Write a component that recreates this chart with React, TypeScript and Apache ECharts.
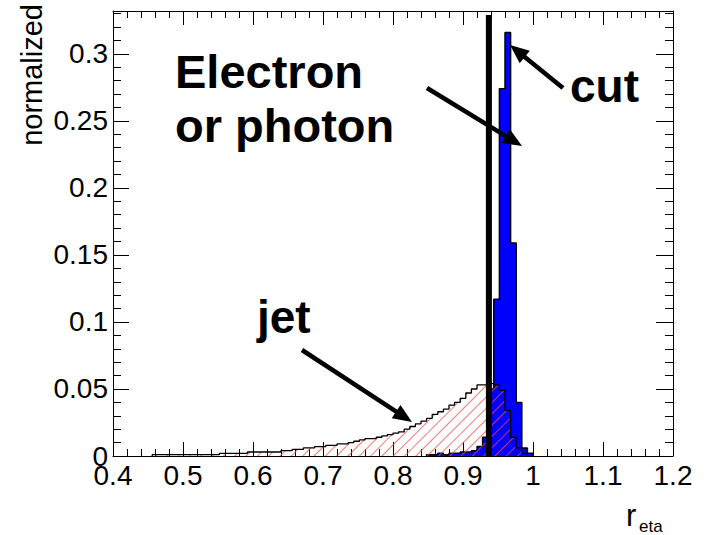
import React, { useEffect, useRef } from "react";
import * as echarts from "echarts";

// ---- data ----
const BIN_WIDTH = 0.008;
const X_MIN = 0.4;
const X_MAX = 1.2;
const X_INTERVAL = 0.1;
const Y_MAX = 0.332;
const Y_INTERVAL = 0.05;

// jet histogram (first bin lower edge = jetStart)
const jetStart = 0.456;
const jetValues = [
  0.001, 0.001, 0.001, 0.001, 0.001, 0.001, 0.001, 0.001, 0.001, 0.001, 0.001, 0.001,
  0.002, 0.002, 0.002, 0.002, 0.002,
  0.003, 0.003, 0.003, 0.003, 0.003, 0.003,
  0.004, 0.004, 0.005, 0.005, 0.006, 0.006, 0.007, 0.007,
  0.008, 0.008, 0.009, 0.009, 0.010, 0.011, 0.012, 0.013, 0.013, 0.014,
  0.015, 0.016, 0.017, 0.018, 0.020, 0.022, 0.024, 0.026, 0.028, 0.031,
  0.033, 0.035, 0.038, 0.040, 0.043, 0.047, 0.050, 0.053, 0.053, 0.054,
  0.053, 0.049, 0.034, 0.014, 0.006, 0.002,
];

// electron / photon histogram (first bin lower edge = egStart)
const egStart = 0.848;
const egValues = [
  0.001, 0.001, 0.002, 0.001, 0.002, 0.002, 0.003, 0.003, 0.004, 0.007,
  0.014, 0.050, 0.117, 0.274, 0.316, 0.159, 0.040, 0.006, 0.002,
];

// cut line
const cutX = 0.937;
const cutTop = 0.329;

const FONT = "'Liberation Sans', Arial, Helvetica, sans-serif";

function stepData(start: number, values: number[]) {
  const pts: number[][] = [[start, 0]];
  values.forEach((v, i) => {
    pts.push([+(start + i * BIN_WIDTH).toFixed(6), v]);
  });
  pts.push([+(start + values.length * BIN_WIDTH).toFixed(6), 0]);
  return pts;
}

function arrow(x1: number, y1: number, x2: number, y2: number) {
  const len = Math.hypot(x2 - x1, y2 - y1);
  const ux = (x2 - x1) / len;
  const uy = (y2 - y1) / len;
  const hl = 19;
  const hw = 8;
  const bx = x2 - ux * hl;
  const by = y2 - uy * hl;
  const px = -uy;
  const py = ux;
  return [
    {
      type: "line",
      shape: { x1, y1, x2: bx + ux * 2, y2: by + uy * 2 },
      style: { stroke: "#000", lineWidth: 4.5 },
      z: 100,
    },
    {
      type: "polygon",
      shape: {
        points: [
          [x2, y2],
          [bx + px * hw, by + py * hw],
          [bx - px * hw, by - py * hw],
        ],
      },
      style: { fill: "#000" },
      z: 100,
    },
  ];
}

export default function App() {
  const ref = useRef<HTMLDivElement>(null);

  useEffect(() => {
    document.body.style.margin = "0";
    const chart = echarts.init(ref.current!, null, { renderer: "svg" });

    const axisLineStyle = { color: "#000", width: 1 };
    const xCommon = {
      type: "value",
      min: X_MIN,
      max: X_MAX,
      interval: X_INTERVAL,
      splitLine: { show: false },
      axisLine: { onZero: false, lineStyle: axisLineStyle },
    };

    const option: any = {
      animation: false,
      backgroundColor: "#fff",
      grid: { left: 113, right: 36, top: 11, bottom: 79, containLabel: false },
      xAxis: [
        {
          ...xCommon,
          position: "bottom",
          axisTick: { inside: true, length: 14, lineStyle: { color: "#000" } },
          minorTick: { show: true, splitNumber: 5, length: 7, lineStyle: { color: "#000" } },
          axisLabel: { fontSize: 28, color: "#000", margin: 5, fontFamily: FONT },
        },
        {
          ...xCommon,
          position: "top",
          axisTick: { inside: true, length: 14, lineStyle: { color: "#000" } },
          minorTick: { show: true, splitNumber: 5, length: 7, lineStyle: { color: "#000" } },
          axisLabel: { show: false },
        },
      ],
      yAxis: [
        {
          type: "value",
          position: "left",
          min: 0,
          max: Y_MAX,
          interval: Y_INTERVAL,
          splitLine: { show: false },
          axisLine: { onZero: false, lineStyle: axisLineStyle },
          axisTick: { inside: true, length: 16, lineStyle: { color: "#000" } },
          axisLabel: {
            fontSize: 28,
            color: "#000",
            margin: 5,
            fontFamily: FONT,
            showMaxLabel: false,
          },
        },
        {
          type: "value",
          position: "left",
          min: 0,
          max: Y_MAX,
          interval: 0.01,
          splitLine: { show: false },
          axisLine: { show: false },
          axisTick: { inside: true, length: 8, lineStyle: { color: "#000" } },
          axisLabel: { show: false },
        },
        {
          type: "value",
          position: "right",
          min: 0,
          max: Y_MAX,
          interval: Y_INTERVAL,
          splitLine: { show: false },
          axisLine: { onZero: false, lineStyle: axisLineStyle },
          axisTick: { inside: true, length: 17, lineStyle: { color: "#000" } },
          axisLabel: { show: false },
        },
        {
          type: "value",
          position: "right",
          min: 0,
          max: Y_MAX,
          interval: 0.01,
          splitLine: { show: false },
          axisLine: { show: false },
          axisTick: { inside: true, length: 8, lineStyle: { color: "#000" } },
          axisLabel: { show: false },
        },
      ],
      series: [
        {
          name: "electron",
          type: "line",
          step: "end",
          xAxisIndex: 0,
          yAxisIndex: 0,
          data: stepData(egStart, egValues),
          symbol: "none",
          lineStyle: { color: "#000", width: 1.5 },
          areaStyle: { color: "#0000ff", opacity: 1 },
          z: 2,
        },
        {
          name: "jet",
          type: "line",
          step: "end",
          xAxisIndex: 0,
          yAxisIndex: 0,
          data: stepData(jetStart, jetValues),
          symbol: "none",
          lineStyle: { color: "#000", width: 1.3 },
          itemStyle: {
            color: "#000",
            decal: {
              symbol: "rect",
              symbolSize: 1,
              color: "rgba(255,70,70,0.75)",
              backgroundColor: "rgba(0,0,0,0)",
              dashArrayX: [1, 0],
              dashArrayY: [1, 7],
              rotation: -Math.PI / 4,
            },
          },
          areaStyle: { color: "rgba(0,0,0,0)", opacity: 1 },
          z: 3,
        },
        {
          name: "cut",
          type: "line",
          xAxisIndex: 0,
          yAxisIndex: 0,
          data: [
            [cutX, 0],
            [cutX, cutTop],
          ],
          symbol: "none",
          lineStyle: { color: "#000", width: 6 },
          z: 4,
        },
      ],
      graphic: [
        {
          type: "text",
          x: 32,
          y: 4,
          rotation: Math.PI / 2,
          style: {
            text: "normalized",
            fontSize: 29,
            fontFamily: FONT,
            fill: "#000",
            align: "right",
            verticalAlign: "middle",
          },
        },
        {
          type: "text",
          x: 626,
          y: 515,
          style: {
            text: "r",
            fontSize: 31,
            fontFamily: FONT,
            fill: "#000",
            align: "left",
            verticalAlign: "middle",
          },
        },
        {
          type: "text",
          x: 639,
          y: 526,
          style: {
            text: "eta",
            fontSize: 17,
            fontFamily: FONT,
            fill: "#000",
            align: "left",
            verticalAlign: "middle",
          },
        },
        {
          type: "text",
          x: 175,
          y: 71,
          z: 100,
          style: {
            text: "Electron",
            fontSize: 47,
            fontWeight: "bold",
            fontFamily: FONT,
            fill: "#000",
            align: "left",
            verticalAlign: "middle",
          },
        },
        {
          type: "text",
          x: 175,
          y: 125,
          z: 100,
          style: {
            text: "or photon",
            fontSize: 47,
            fontWeight: "bold",
            fontFamily: FONT,
            fill: "#000",
            align: "left",
            verticalAlign: "middle",
          },
        },
        {
          type: "text",
          x: 570,
          y: 86,
          z: 100,
          style: {
            text: "cut",
            fontSize: 46,
            fontWeight: "bold",
            fontFamily: FONT,
            fill: "#000",
            align: "left",
            verticalAlign: "middle",
          },
        },
        {
          type: "text",
          x: 257,
          y: 317,
          z: 100,
          style: {
            text: "jet",
            fontSize: 46,
            fontWeight: "bold",
            fontFamily: FONT,
            fill: "#000",
            align: "left",
            verticalAlign: "middle",
          },
        },
        ...arrow(427, 88, 522, 146),
        ...arrow(563, 88, 510, 45),
        ...arrow(302, 350, 412, 422),
      ],
    };

    chart.setOption(option);
    return () => chart.dispose();
  }, []);

  return (
    <div
      ref={ref}
      style={{ position: "fixed", left: 0, top: 0, width: 709, height: 535, background: "#fff" }}
    />
  );
}
